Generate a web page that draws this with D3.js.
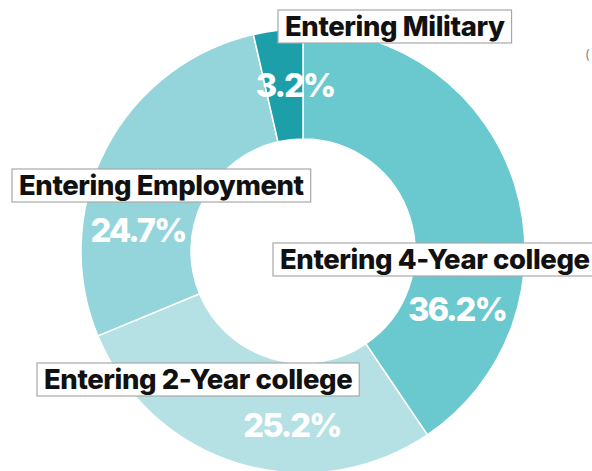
<!DOCTYPE html>
<html>
<head>
<meta charset="utf-8">
<script src="https://cdn.jsdelivr.net/npm/d3@7"></script>
<style>
  body { margin: 0; background: #fff; }
  svg { display: block; }
</style>
</head>
<body>
<div id="chart"></div>
<script>
const categories = ["Entering 4-Year college", "Entering 2-Year college", "Entering Employment", "Entering Military"];
const shares = [36.2, 25.2, 24.7, 3.2];
const sliceColors = ["#69c9cf", "#b5e1e5", "#93d5da", "#1c9fa8"];

// Layout
const width = 592, height = 471;
const cx = 303, cy = 251;
const outerR = 222, innerR = 112;

// Where each annotation sits, relative to the centre (box top-left / percent centre)
const boxOffsets = [[-30, -8], [-266, 112], [-291, -82], [-25, -241]];
const pctOffsets = [[154, 58], [-11, 174], [-165, -21], [-8, -166]];

const data = categories.map((c, i) => ({ name: c, value: shares[i], color: sliceColors[i] }));

const svg = d3.select("#chart")
  .append("svg")
  .attr("width", width)
  .attr("height", height);

const g = svg.append("g")
  .attr("transform", `translate(${cx}, ${cy})`);

// Pie layout, clockwise from 12 o'clock
const pie = d3.pie()
  .value(d => d.value)
  .sort(null);

const arc = d3.arc()
  .innerRadius(innerR)
  .outerRadius(outerR);

g.selectAll(".slice")
  .data(pie(data))
  .enter()
  .append("path")
  .attr("class", "slice")
  .attr("d", arc)
  .attr("fill", d => d.data.color)
  .attr("stroke", "#fff")
  .attr("stroke-width", 1.5);

// Percentage labels in white
const pct = g.selectAll(".pct")
  .data(data)
  .enter()
  .append("text")
  .attr("class", "pct")
  .attr("x", (d, i) => pctOffsets[i][0])
  .attr("y", (d, i) => pctOffsets[i][1])
  .attr("text-anchor", "middle")
  .attr("dominant-baseline", "central")
  .attr("font-family", "Inter, 'Open Sans', sans-serif")
  .attr("font-weight", 800)
  .attr("fill", "#fff")
  .attr("letter-spacing", "-2px")
  .text(d => d.value.toFixed(1) + "%");

// Fit the percent size so "36.2%" is about 99px wide
pct.attr("font-size", 36);
const pctW = pct.nodes()[0].getComputedTextLength();
pct.attr("font-size", 36 * 99 / pctW);

// Category labels in white boxes with grey border
const labels = g.selectAll(".label")
  .data(data)
  .enter()
  .append("g")
  .attr("class", "label")
  .attr("transform", (d, i) => `translate(${boxOffsets[i][0]}, ${boxOffsets[i][1]})`);

const boxes = labels.append("rect")
  .attr("fill", "#fff")
  .attr("stroke", "#a8a8a8")
  .attr("stroke-width", 1.2)
  .attr("height", 33);

const labelText = labels.append("text")
  .attr("x", 7)
  .attr("y", 26)
  .attr("font-family", "Inter, 'Open Sans', sans-serif")
  .attr("font-weight", 800)
  .attr("fill", "#111")
  .attr("letter-spacing", "-0.4px")
  .text(d => d.name);

// Fit label size so "Entering Military" is about 218px wide
labelText.attr("font-size", 22);
const milW = labelText.nodes()[3].getComputedTextLength();
labelText.attr("font-size", 22 * 218 / milW);

boxes.attr("width", function() {
  const t = d3.select(this.parentNode).select("text").node();
  return t.getComputedTextLength() + 14;
});

// Small cut-off glyph at the right edge
svg.append("text")
  .attr("x", 585)
  .attr("y", 59)
  .attr("font-family", "Inter, sans-serif")
  .attr("font-size", 13)
  .attr("fill", "#888")
  .text("(");
</script>
</body>
</html>
